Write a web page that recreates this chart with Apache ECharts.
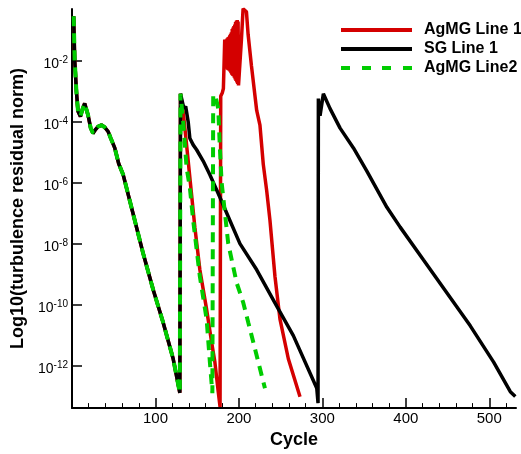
<!DOCTYPE html>
<html>
<head>
<meta charset="utf-8">
<script src="https://cdn.jsdelivr.net/npm/echarts@6/dist/echarts.min.js"></script>
<style>html,body{margin:0;padding:0;background:#fff}#c{width:521px;height:454px}</style>
</head>
<body>
<div id="c"></div>
<script>
// Shared start of every run (cycle, log10 residual)
const commonCycles = [2.0, 3.2, 5.3, 7.2, 10.1, 12.8, 15.2, 19.2, 22.4, 25.2, 28.4, 31.2, 35.3, 39.2, 43.2, 46.4, 51.2, 56.0, 61.2, 73.2, 85.2, 97.2, 109.2, 121.2, 129.2];
const commonValues = [-0.53, -1.94, -3.00, -3.65, -3.82, -3.56, -3.39, -3.77, -4.20, -4.37, -4.24, -4.15, -4.10, -4.17, -4.31, -4.53, -4.85, -5.37, -5.72, -7.01, -8.31, -9.50, -10.58, -11.77, -12.89];

// AgMG Line 1 (after the shared part)
const agmg1Cycles = [130, 133.2, 137.3, 141.2, 147.2, 153.2, 161.3, 167.3, 171.2, 175.2, 177.4, 178.2, 180, 181.4, 183, 183.5, 184, 184.5, 185, 185.5, 186, 186.5, 187, 187.5, 188, 188.5, 189, 189.5, 190, 190.5, 191, 191.5, 192, 192.5, 193, 193.5, 194, 194.5, 195, 195.5, 196, 196.5, 197, 197.5, 198, 198.5, 199, 199.5, 200, 201, 203, 205, 207, 209, 211, 215, 221.3, 225.2, 229.2, 233.3, 237.2, 243.2, 249.2, 259.2, 273.2];
const agmg1Values = [-3.07, -3.66, -4.75, -5.82, -7.45, -8.85, -10.15, -11.23, -11.88, -12.85, -13.35, -3.15, -3.05, -2.9, -1.29, -2.2, -1.3, -2.22, -1.28, -2.25, -1.25, -2.28, -1.22, -2.3, -1.2, -2.32, -1.15, -2.35, -1.1, -2.4, -1.05, -2.45, -0.95, -2.48, -0.9, -2.5, -0.85, -2.55, -0.8, -2.6, -0.72, -2.65, -0.68, -2.7, -0.65, -2.75, -0.7, -2.8, -2.82, -2.84, -1.3, -0.28, -0.33, -0.38, -1.12, -2.15, -3.62, -4.10, -5.39, -6.26, -7.23, -9.07, -10.47, -11.77, -13.02];

// SG Line 1 (after the shared part)
const sgCycles = [130, 133.2, 135.2, 136.2, 139.2, 141.2, 145.2, 149.3, 157.2, 165.2, 177.2, 189.2, 201.2, 221.3, 245.3, 265.2, 293.3, 294.8, 295.2, 297.2, 301.2, 309.2, 321.2, 337.2, 353.3, 377.3, 393.2, 421.2, 449.3, 477.2, 505.2, 525.2, 531.2];
const sgValues = [-3.07, -3.45, -3.56, -3.48, -3.99, -4.53, -4.75, -4.91, -5.28, -5.73, -6.47, -7.23, -7.99, -8.85, -10.04, -11.01, -12.74, -13.23, -3.23, -3.79, -3.07, -3.56, -4.20, -4.85, -5.61, -6.80, -7.45, -8.53, -9.61, -10.69, -11.88, -12.85, -13.01];

// AgMG Line2 (after the shared part)
const agmg2Cycles = [130, 133.2, 137.3, 141.2, 145.2, 153.2, 161.3, 165.2, 168.2, 169.2, 172, 175.2, 177.2, 179.3, 181.2, 187.2, 197.3, 205.2, 211.2, 219.2, 231.2];
const agmg2Values = [-3.07, -3.99, -5.50, -6.15, -7.23, -9.07, -10.47, -11.88, -12.9, -3.1, -3.15, -3.56, -4.85, -5.99, -6.47, -7.99, -9.28, -9.93, -10.58, -11.44, -12.74];

const seriesNames = ['AgMG Line 1', 'SG Line 1', 'AgMG Line2'];
const xTickValues = [100, 200, 300, 400, 500];
const xMinorValues = [20, 40, 60, 80, 120, 140, 160, 180, 220, 240, 260, 280, 320, 340, 360, 380, 420, 440, 460, 480, 520];
const yTickValues = [-12, -10, -8, -6, -4, -2];

function pairs(cs, vs) { return cs.map((c, i) => [c, vs[i]]); }
const commonPts = pairs(commonCycles, commonValues);

const FONT = 'Liberation Sans, Arial, sans-serif';
const dashIcon = 'path://M0,0h9v4h-9z M21,0h9v4h-9z M41,0h9v4h-9z M62,0h9v4h-9z';
const chart = echarts.init(document.getElementById('c'));
chart.setOption({
  animation: false,
  backgroundColor: '#fff',
  grid: { left: 72, right: 5, top: 9, bottom: 41, containLabel: false },
  legend: {
    orient: 'vertical', left: 341, top: 22, padding: 0, itemWidth: 71, itemHeight: 4, itemGap: 3,
    symbolKeepAspect: false,
    textStyle: { fontFamily: FONT, fontWeight: 'bold', fontSize: 16, lineHeight: 16, color: '#000', padding: [0, 0, 0, 7] },
    data: [
      { name: seriesNames[0], icon: 'rect', itemStyle: { color: '#d40000' } },
      { name: seriesNames[1], icon: 'rect', itemStyle: { color: '#000' } },
      { name: seriesNames[2], icon: dashIcon, itemStyle: { color: '#00cc00' } }
    ]
  },
  xAxis: [{
    type: 'value', min: 0, max: 532, position: 'bottom',
    name: 'Cycle', nameLocation: 'middle', nameGap: 19,
    nameTextStyle: { fontFamily: FONT, fontWeight: 'bold', fontSize: 18, color: '#000' },
    axisLine: { show: true, lineStyle: { color: '#000', width: 2 } },
    axisTick: { show: true, inside: true, length: 10, customValues: xTickValues, lineStyle: { color: '#000', width: 1.5 } },
    axisLabel: { customValues: xTickValues, margin: 3, fontFamily: FONT, fontSize: 15, color: '#000' },
    splitLine: { show: false }
  }, {
    type: 'value', min: 0, max: 532, position: 'bottom',
    axisLine: { show: false },
    axisTick: { show: true, inside: true, length: 5, customValues: xMinorValues, lineStyle: { color: '#000', width: 1 } },
    axisLabel: { show: false },
    splitLine: { show: false }
  }],
  yAxis: {
    type: 'value', min: -13.39, max: -0.29,
    name: 'Log10(turbulence residual norm)', nameLocation: 'middle', nameGap: 43, nameRotate: 90,
    nameTextStyle: { fontFamily: FONT, fontWeight: 'bold', fontSize: 18, color: '#000' },
    axisLine: { show: true, lineStyle: { color: '#000', width: 2 } },
    axisTick: { show: true, inside: true, length: 10, customValues: yTickValues, lineStyle: { color: '#000', width: 1.5 } },
    axisLabel: {
      customValues: yTickValues, margin: 4,
      formatter: v => '{b|10}{s|' + v + '}',
      rich: {
        b: { fontFamily: FONT, fontSize: 14, color: '#000', padding: [6, 0, 0, 0] },
        s: { fontFamily: FONT, fontSize: 10, color: '#000', padding: [0, 0, 1, 0] }
      }
    },
    splitLine: { show: false }
  },
  series: [
    { name: seriesNames[0], type: 'line', showSymbol: false, symbol: 'none',
      data: commonPts.concat(pairs(agmg1Cycles, agmg1Values)),
      lineStyle: { color: '#d40000', width: 3.5 }, itemStyle: { color: '#d40000' } },
    { name: seriesNames[1], type: 'line', showSymbol: false, symbol: 'none',
      data: commonPts.concat(pairs(sgCycles, sgValues)),
      lineStyle: { color: '#000', width: 3.5 }, itemStyle: { color: '#000' } },
    { name: seriesNames[2], type: 'line', showSymbol: false, symbol: 'none',
      data: commonPts.concat(pairs(agmg2Cycles, agmg2Values)),
      lineStyle: { color: '#00cc00', width: 4, type: [10, 7] }, itemStyle: { color: '#00cc00' } }
  ]
});
</script>
</body>
</html>
